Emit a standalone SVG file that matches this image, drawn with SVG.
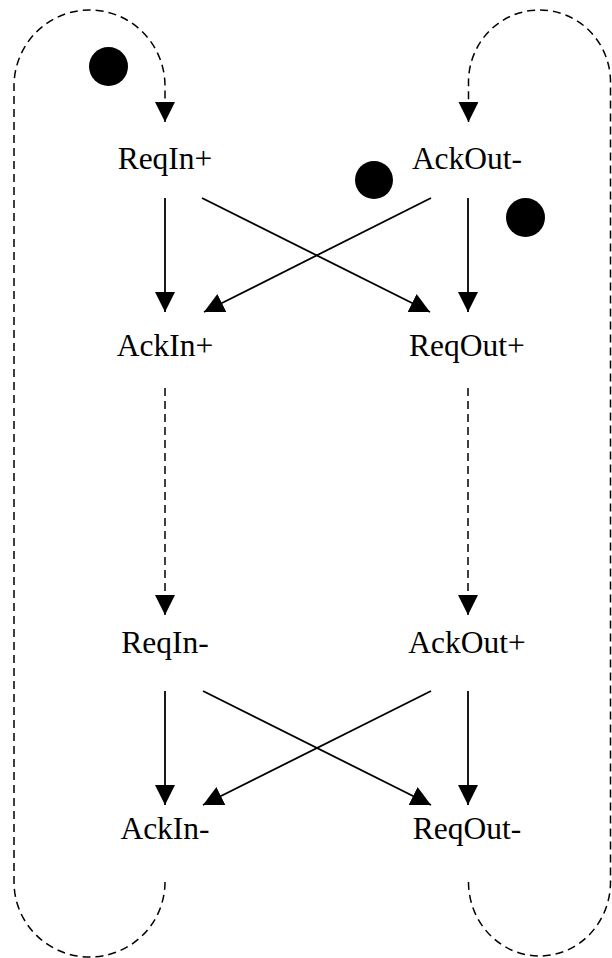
<svg xmlns="http://www.w3.org/2000/svg" width="612" height="958" viewBox="0 0 612 958">
<style>
.lbl{font-family:"Liberation Serif","Times New Roman",serif;font-size:31.5px;fill:#000;text-anchor:middle}
.solid{fill:none;stroke:#000;stroke-width:1.8}
.dash{fill:none;stroke:#000;stroke-width:1.5;stroke-dasharray:8 5}
.tok{fill:#000}
</style>
<defs>
<marker id="ah" markerUnits="userSpaceOnUse" markerWidth="20" markerHeight="20" viewBox="0 0 20 20" refX="20" refY="10" orient="auto">
<path d="M0,0 L20,10 L0,20 Z" fill="#000" stroke="none"/>
</marker>
</defs>
<rect width="612" height="958" fill="#fff"/>
<g id="connectors">
<line class="solid" x1="165" y1="198" x2="165" y2="312" marker-end="url(#ah)"/>
<line class="solid" x1="468" y1="198" x2="468" y2="312" marker-end="url(#ah)"/>
<line class="solid" x1="202" y1="198" x2="430" y2="312" marker-end="url(#ah)"/>
<line class="solid" x1="431" y1="198" x2="204" y2="312" marker-end="url(#ah)"/>
<line class="dash" x1="165" y1="388" x2="165" y2="615" marker-end="url(#ah)"/>
<line class="dash" x1="468" y1="388" x2="468" y2="615" marker-end="url(#ah)"/>
<line class="solid" x1="165" y1="691" x2="165" y2="805" marker-end="url(#ah)"/>
<line class="solid" x1="468" y1="691" x2="468" y2="805" marker-end="url(#ah)"/>
<line class="solid" x1="203" y1="691" x2="431" y2="805" marker-end="url(#ah)"/>
<line class="solid" x1="431" y1="691" x2="203" y2="805" marker-end="url(#ah)"/>
<path class="dash" d="M165,882 A75.5,75 0 0 1 14,882 L14,86 A75.5,76 0 0 1 165,86 L165,122" marker-end="url(#ah)"/>
<path class="dash" d="M468.5,882 A71,74 0 0 0 610.5,882 L610.5,82 A71,72 0 0 0 468.5,82 L468.5,122" marker-end="url(#ah)"/>
</g>
<g id="tokens">
<circle class="tok" cx="108.5" cy="66.5" r="19.5"/>
<circle class="tok" cx="374" cy="180" r="19"/>
<circle class="tok" cx="525.5" cy="217.5" r="19.5"/>
</g>
<g id="ReqInPlus"><text class="lbl" x="165" y="169">ReqIn+</text></g>
<g id="AckOutMinus"><text class="lbl" x="467" y="169">AckOut-</text></g>
<g id="AckInPlus"><text class="lbl" x="165" y="356">AckIn+</text></g>
<g id="ReqOutPlus"><text class="lbl" x="467" y="356">ReqOut+</text></g>
<g id="ReqInMinus"><text class="lbl" x="165" y="653">ReqIn-</text></g>
<g id="AckOutPlus"><text class="lbl" x="467" y="653">AckOut+</text></g>
<g id="AckInMinus"><text class="lbl" x="165" y="839">AckIn-</text></g>
<g id="ReqOutMinus"><text class="lbl" x="467" y="839">ReqOut-</text></g>
</svg>
